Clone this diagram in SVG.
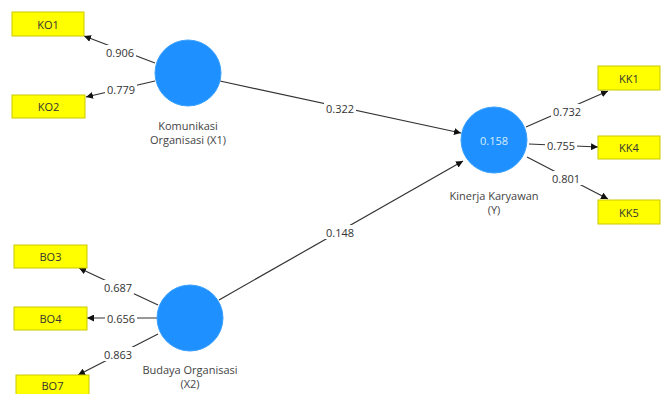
<svg xmlns="http://www.w3.org/2000/svg" width="662" height="394" viewBox="0 0 662 394">
<defs>
<style>
.ind rect{fill:#ffff00;stroke:#c9c900;stroke-width:1}
.ind text{font-family:"Open Sans","Liberation Sans",sans-serif;font-size:11px;fill:#333;text-anchor:middle;dominant-baseline:central}
.lat circle{fill:#1e90ff;stroke:#3aa0ff;stroke-width:1}
.lbl{font-family:"Open Sans","Liberation Sans",sans-serif;font-size:11px;fill:#444;text-anchor:middle}
.edge line{stroke:#333;stroke-width:1.2;marker-end:url(#ah)}
.wt{font-family:"Open Sans","Liberation Sans",sans-serif;font-size:11px;fill:#333;text-anchor:middle;dominant-baseline:central}
.bg{fill:#fff}
</style>
<marker id="ah" viewBox="0 0 10 10" refX="10" refY="5" markerWidth="7" markerHeight="7" markerUnits="userSpaceOnUse" orient="auto">
<path d="M0,0 L10,5 L0,10 z" fill="#111"/>
</marker>
</defs>
<rect width="662" height="394" fill="#fff"/>
<g id="connectors" class="edge">
<line x1="155" y1="63" x2="84" y2="36"/>
<line x1="155" y1="81" x2="86" y2="97"/>
<line x1="220" y1="81" x2="461" y2="133"/>
<line x1="219" y1="300" x2="463" y2="161"/>
<line x1="526" y1="127" x2="608" y2="91"/>
<line x1="529" y1="144" x2="598" y2="147"/>
<line x1="527" y1="157" x2="608" y2="199"/>
<line x1="158" y1="305" x2="79" y2="268"/>
<line x1="157" y1="318" x2="87" y2="318"/>
<line x1="158" y1="334" x2="78" y2="375"/>
</g>
<g id="weights">
<rect class="bg" x="104" y="45" width="32" height="14"/><text class="wt" x="120" y="52">0.906</text>
<rect class="bg" x="105" y="82" width="32" height="14"/><text class="wt" x="121" y="89">0.779</text>
<rect class="bg" x="324" y="101" width="32" height="14"/><text class="wt" x="340" y="108">0.322</text>
<rect class="bg" x="324" y="225" width="32" height="14"/><text class="wt" x="340" y="232">0.148</text>
<rect class="bg" x="551" y="104" width="32" height="14"/><text class="wt" x="567" y="111">0.732</text>
<rect class="bg" x="545" y="138" width="32" height="14"/><text class="wt" x="561" y="145">0.755</text>
<rect class="bg" x="550" y="171" width="32" height="14"/><text class="wt" x="566" y="178">0.801</text>
<rect class="bg" x="102" y="280" width="32" height="14"/><text class="wt" x="118" y="287">0.687</text>
<rect class="bg" x="105" y="311" width="32" height="14"/><text class="wt" x="121" y="318">0.656</text>
<rect class="bg" x="102" y="347" width="32" height="14"/><text class="wt" x="118" y="354">0.863</text>
</g>
<g id="KO1" class="ind"><rect x="12" y="12" width="72" height="24"/><text x="48" y="24">KO1</text></g>
<g id="KO2" class="ind"><rect x="12" y="95" width="73" height="23"/><text x="48.5" y="106.5">KO2</text></g>
<g id="BO3" class="ind"><rect x="14" y="245" width="73" height="23"/><text x="50.5" y="256.5">BO3</text></g>
<g id="BO4" class="ind"><rect x="14" y="307" width="73" height="23"/><text x="50.5" y="318.5">BO4</text></g>
<g id="BO7" class="ind"><rect x="16" y="375" width="73" height="24"/><text x="52.5" y="385.5">BO7</text></g>
<g id="KK1" class="ind"><rect x="598" y="66" width="62" height="24"/><text x="629" y="78">KK1</text></g>
<g id="KK4" class="ind"><rect x="598" y="136" width="62" height="23"/><text x="629" y="147.5">KK4</text></g>
<g id="KK5" class="ind"><rect x="598" y="200" width="62" height="24"/><text x="629" y="212">KK5</text></g>
<g id="X1" class="lat"><circle cx="188" cy="73" r="33"/><text class="lbl" x="188" y="130">Komunikasi</text><text class="lbl" x="188" y="144">Organisasi (X1)</text></g>
<g id="X2" class="lat"><circle cx="190" cy="318" r="33"/><text class="lbl" x="190" y="374">Budaya Organisasi</text><text class="lbl" x="190" y="388">(X2)</text></g>
<g id="Y" class="lat"><circle cx="494" cy="140" r="33"/><text x="494" y="140" style="font-family:'Open Sans','Liberation Sans',sans-serif;font-size:11px;fill:#d6ecff;text-anchor:middle;dominant-baseline:central">0.158</text><text class="lbl" x="494" y="200">Kinerja Karyawan</text><text class="lbl" x="494" y="214">(Y)</text></g>
</svg>
